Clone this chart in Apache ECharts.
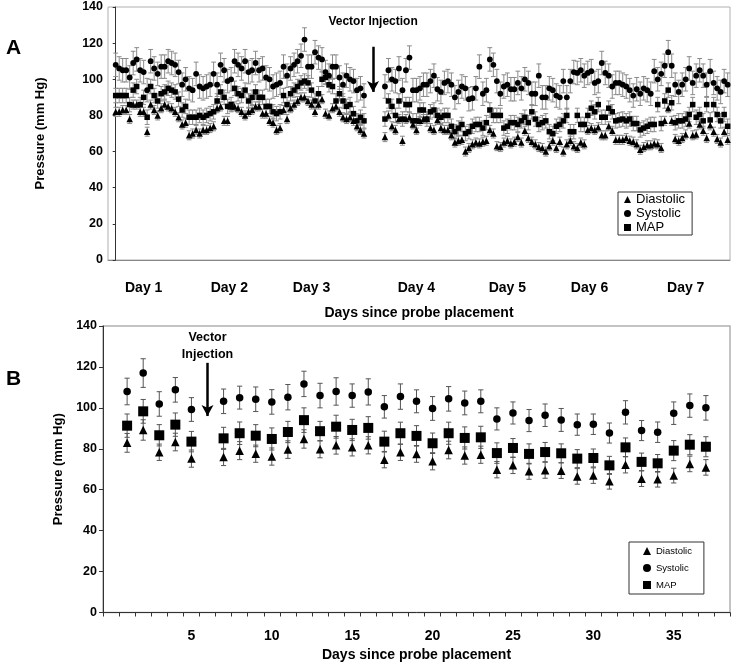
<!DOCTYPE html>
<html><head><meta charset="utf-8">
<script src="https://cdn.jsdelivr.net/npm/echarts@6/dist/echarts.min.js"></script>
<style>html,body{margin:0;padding:0;background:#fff}#c{width:735px;height:667px}</style>
</head><body><div id="c"></div>
<script>
// ---------- Panel A: hourly values (pre- and post-injection) ----------
const preSys = [108,106,105,105,101,109,111,105,104,94,110,106,103,107,107,110,109,108,104,97,100,95,94,103,96,95,96,97,103,97,108,105,99,100,110,108,106,110,104,105,109,105,106,101,100,96,97,98,107,102,106,108,110,113,122,107,107,115,112,111,104,102,107,107,101,97,102,100,99,94,95,91];
const preMap = [91,91,91,91,86,94,96,86,90,79,96,91,88,92,93,95,94,93,89,83,85,79,79,79,80,79,80,81,82,88,93,90,85,86,95,92,91,94,88,90,93,90,90,85,85,82,81,82,91,86,92,94,96,98,99,98,94,88,92,100,101,97,96,88,92,88,85,86,81,77,79,77];
const preDia = [82,82,83,83,78,86,86,82,82,71,86,83,80,84,86,85,84,82,79,75,76,69,70,72,70,72,72,73,74,84,85,77,77,85,85,84,82,80,82,83,85,85,81,81,77,76,72,73,83,78,84,86,88,90,90,88,86,82,86,89,81,80,84,85,82,79,78,79,77,74,72,70];
const postStart = 77;
const postSys = [96,105,100,99,106,94,105,112,94,94,95,97,97,99,102,94.5,93,98,99,97,90,93,96,95,89,89.5,95,107,92,94,111,108,99,92,96,97,94.5,94.5,98,95,100,98,92,92,102,90,90,95,94,91,90,99,90,99,104,103.5,105,102,103.5,104.5,98,99,109,103.5,102,96,98,98,97,96,94,91,94.5,92,95,94,92,104.5,100,103,107.5,115,107.5,97,93,97,100,106,98,102,105,102,97,104.5,98,95,93,99,97];
const postMap = [78,88,85,80,88,78,86,86,77,77,83,83,78,82,83,80,79,80,80,74,71,73,75,70,71,74,
  75,75,73,76,83,80,80,80,73,74,76,76,75,77,79,76,82,78,75,76,77,71,70,74,75,77,80,71,71,80,75,75,80,84,82,
  86,79,79,84,82,77,77.5,78,77,78,75.5,75.5,72,73,74,75,75,86,75.5,88,94,87,76,77,77,78,80.5,86,79,80.5,77,86,77.5,86,80.5,77,80.5,74];
const postDia = [68,80,74,72,78,66,78,79,75,72,77,78,78,73,72,77.5,73,72,72,69,65,66,66.5,60,62,64,
  65,64.5,65.5,66,72,70,63,62.5,65,66,64.5,65.5,68,65,71.5,67.5,65.5,64,62.5,62,60,63,66,62,65.5,60,64,66,63,62,65,64,72,73,72,
  73.5,69,69,74,71.5,66.5,66.5,66.5,67.5,66,65.5,64,61,62.5,63.5,63.5,64.5,64,62,77,84,77,67,66,67.5,69.5,75.5,69,69.5,75,71.5,67.5,74.5,71,67,65,71,66.5];
const semA = {sys: 6.5, map: 4, dia: 2.5};
const dayLabels = ['Day 1','Day 2','Day 3','Day 4','Day 5','Day 6','Day 7'];
const dayLabelHours = [8, 32.5, 56, 86, 112, 135.5, 163];
const injectionHourA = 73.6;

// ---------- Panel B: daily means and SEM ----------
const bDays = [1,2,3,4,5,7,8,9,10,11,12,13,14,15,16,17,18,19,20,21,22,23,24,25,26,27,28,29,30,31,32,33,34,35,36,37];
const sysB = [108,117,101.9,108.8,99.2,103.2,105,104.2,102.9,105.2,111.7,106,108,106,107.8,100.5,105.5,103.2,99.7,104.4,102.4,103.2,94.6,97.5,93.8,96.4,94.1,91.8,92,87.7,97.8,88.9,88.1,97.4,101.1,100];
const sysBErr = [6.5,7,6,6,5.8,6,5.6,6,6,6.2,6.2,6,6.7,5.7,6.4,5.5,6.2,5.6,5.8,6,5.8,5.6,5.4,5.4,5.4,5.5,5.6,5.2,5,4.9,5.7,4.9,5,5.5,5.7,6];
const mapB = [91.3,98.3,86.6,91.8,83.5,85.1,87.6,86.4,84.8,88.2,94,88.6,90.8,89.2,90.2,83.5,87.6,86.3,82.7,87.6,85.3,85.6,77.9,80.4,77.5,78.4,77.8,75.2,75.5,71.9,80.7,73.6,72.9,79.1,82,81];
const mapBErr = [5.7,5.8,5.2,5.7,5,5.4,5.5,5.4,5.4,5.2,6,4.8,5.6,5.2,5.5,5.1,5.4,5,5,5.4,5.4,5.4,5,4.6,4.9,4.7,4.6,4.4,4.4,4.4,4.6,4.3,4.3,4.9,4.9,4.9];
const diaB = [82.9,89.2,78.3,83.3,75.2,76,79.1,77.6,76.2,79.6,84.8,79.8,81.7,80.7,81.7,74.7,78.3,77.5,73.9,79.4,76.7,77.1,69.8,71.9,69,69.5,69.3,66.5,66.9,64.1,72.2,65.4,65.1,66.9,72.6,70.9];
const diaBErr = [4.6,5,4,4.3,4.2,4.2,4.4,4.2,4.2,4.3,4.5,4.2,4.3,4.2,4.2,4,4,4.1,4.2,4.3,4.2,4.2,4,4,3.9,3.9,3.8,3.8,3.8,3.8,4,3.8,3.8,3.6,3.8,3.8];
const bCategories = Array.from({length: 39}, (_, i) => String(i));
const bTickLabels = ['5','10','15','20','25','30','35'];
const injectionDayB = 6;

// ---------- build ----------
const sysA = preSys.concat(postSys), mapA = preMap.concat(postMap), diaA = preDia.concat(postDia);
const hoursA = preSys.map((_, k) => k).concat(postSys.map((_, k) => postStart + k));
const FONT = 'Liberation Sans, Arial, sans-serif';

function errItem(capHalf, color, lw) {
  return function (params, api) {
    const x = api.value(0), y = api.value(1), e = api.value(2);
    const t = api.coord([x, y + e]), b = api.coord([x, y - e]);
    const style = {stroke: color, lineWidth: lw};
    return {type: 'group', children: [
      {type: 'line', shape: {x1: t[0], y1: t[1], x2: b[0], y2: b[1]}, style},
      {type: 'line', shape: {x1: t[0] - capHalf, y1: t[1], x2: t[0] + capHalf, y2: t[1]}, style},
      {type: 'line', shape: {x1: b[0] - capHalf, y1: b[1], x2: b[0] + capHalf, y2: b[1]}, style}
    ]};
  };
}
function scatter(name, idx, data, symbol, size) {
  return {type: 'scatter', name, xAxisIndex: idx, yAxisIndex: idx, data, symbol, symbolSize: size,
    itemStyle: {color: '#000', opacity: 1}, z: 5, silent: true, animation: false};
}
function errSeries(idx, data, cap, color) {
  return {type: 'custom', name: 'err', xAxisIndex: idx, yAxisIndex: idx, data, renderItem: errItem(cap, color, 1),
    encode: {x: 0, y: 1}, z: 3, silent: true, animation: false};
}

const aSys = hoursA.map((h, k) => [h, sysA[k]]);
const aMap = hoursA.map((h, k) => [h, mapA[k]]);
const aDia = hoursA.map((h, k) => [h, diaA[k]]);
const aSysE = hoursA.map((h, k) => [h, sysA[k], semA.sys]);
const aMapE = hoursA.map((h, k) => [h, mapA[k], semA.map]);
const aDiaE = hoursA.map((h, k) => [h, diaA[k], semA.dia]);

const bSys = bDays.map((d, k) => [d, sysB[k]]);
const bMap = bDays.map((d, k) => [d, mapB[k]]);
const bDia = bDays.map((d, k) => [d, diaB[k]]);
const bSysE = bDays.map((d, k) => [d, sysB[k], sysBErr[k]]);
const bMapE = bDays.map((d, k) => [d, mapB[k], mapBErr[k]]);
const bDiaE = bDays.map((d, k) => [d, diaB[k], diaBErr[k]]);

const chart = echarts.init(document.getElementById('c'));

const sysAseries = scatter('Systolic', 0, aSys, 'circle', 5.8);
sysAseries.markLine = {silent: true, symbol: ['none', 'arrow'], symbolSize: [9, 11], animation: false,
  lineStyle: {color: '#000', width: 2.5, type: 'solid'}, label: {show: false},
  data: [[{coord: [injectionHourA, 118]}, {coord: [injectionHourA, 93]}]]};
sysAseries.markPoint = {silent: true, symbol: 'circle', symbolSize: 0, animation: false,
  label: {show: true, position: 'inside', formatter: 'Vector Injection', color: '#000', fontFamily: FONT, fontWeight: 'bold', fontSize: 12},
  data: [{coord: [injectionHourA, 131.8]}]};

const sysBseries = scatter('Systolic', 1, bSys, 'circle', 7.5);
sysBseries.markLine = {silent: true, symbol: ['none', 'arrow'], symbolSize: [9, 11], animation: false,
  lineStyle: {color: '#000', width: 2.5, type: 'solid'}, label: {show: false},
  data: [[{coord: [injectionDayB, 122]}, {coord: [injectionDayB, 96]}]]};
sysBseries.markPoint = {silent: true, symbol: 'circle', symbolSize: 0, animation: false,
  label: {show: true, position: 'inside', formatter: 'Vector\nInjection', color: '#000', fontFamily: FONT, fontWeight: 'bold', fontSize: 12.5, lineHeight: 17},
  data: [{coord: [injectionDayB, 130.3]}]};

const yAxisCommon = (gridIndex, gap, labelSize, margin, tickLen) => ({
  type: 'value', gridIndex, min: 0, max: 140, interval: 20,
  name: 'Pressure (mm Hg)', nameLocation: 'middle', nameGap: gap, nameRotate: 90,
  nameTextStyle: {fontFamily: FONT, fontWeight: 'bold', fontSize: 13, color: '#000'},
  axisLine: {show: true, lineStyle: {color: '#333', width: 1}},
  axisTick: {show: true, length: tickLen, lineStyle: {color: '#333'}},
  axisLabel: {fontFamily: FONT, fontWeight: 'bold', fontSize: labelSize, color: '#000', margin},
  splitLine: {show: false}
});

chart.setOption({
  animation: false,
  backgroundColor: '#fff',
  grid: [
    {left: 108, top: 7, width: 622, height: 253, show: true, borderColor: '#b0b0b0', borderWidth: 1},
    {left: 103, top: 326, width: 627, height: 286.5, show: true, borderColor: '#b0b0b0', borderWidth: 1.5}
  ],
  xAxis: [
    {type: 'value', gridIndex: 0, min: -2.2, max: 175.67,
      name: 'Days since probe placement', nameLocation: 'middle', nameGap: 46,
      nameTextStyle: {fontFamily: FONT, fontWeight: 'bold', fontSize: 14, color: '#000'},
      axisLine: {show: true, onZero: false, lineStyle: {color: '#888'}},
      axisTick: {show: false},
      axisLabel: {show: true, customValues: dayLabelHours, margin: 21,
        formatter: v => dayLabels[dayLabelHours.indexOf(v)] || '',
        fontFamily: FONT, fontWeight: 'bold', fontSize: 14, color: '#000'},
      splitLine: {show: false}},
    {type: 'category', gridIndex: 1, data: bCategories, boundaryGap: true,
      name: 'Days since probe placement', nameLocation: 'middle', nameGap: 36,
      nameTextStyle: {fontFamily: FONT, fontWeight: 'bold', fontSize: 14, color: '#000'},
      axisLine: {show: true, onZero: false, lineStyle: {color: '#333'}},
      axisTick: {show: true, interval: 0, length: 4, lineStyle: {color: '#333'}},
      axisLabel: {interval: (i, v) => bTickLabels.indexOf(v) >= 0, margin: 17,
        fontFamily: FONT, fontWeight: 'bold', fontSize: 14, color: '#000'},
      splitLine: {show: false}}
  ],
  yAxis: [yAxisCommon(0, 61, 12.5, 5, 3), yAxisCommon(1, 32, 12.5, 6, 4)],
  legend: [
    {left: 618, top: 192, orient: 'vertical', selectedMode: false,
      backgroundColor: '#fff', borderColor: '#333', borderWidth: 1, padding: [1, 7, 1, 6],
      itemGap: 1, itemWidth: 7, itemHeight: 7,
      textStyle: {fontFamily: FONT, fontSize: 13, lineHeight: 13, color: '#000'},
      data: [{name: 'Diastolic', icon: 'triangle'}, {name: 'Systolic', icon: 'circle'}, {name: 'MAP', icon: 'rect'}]},
    {left: 629, top: 542, orient: 'vertical', selectedMode: false,
      backgroundColor: '#fff', borderColor: '#333', borderWidth: 1, padding: [4, 12, 4, 14],
      itemGap: 7, itemWidth: 8, itemHeight: 8,
      textStyle: {fontFamily: FONT, fontSize: 9.5, color: '#000'},
      data: [{name: 'Diastolic', icon: 'triangle'}, {name: 'Systolic', icon: 'circle'}, {name: 'MAP', icon: 'rect'}]}
  ],
  graphic: [
    {type: 'text', left: 6, top: 38, style: {text: 'A', fontFamily: FONT, fontWeight: 'bold', fontSize: 21, fill: '#000'}},
    {type: 'text', left: 6, top: 369, style: {text: 'B', fontFamily: FONT, fontWeight: 'bold', fontSize: 21, fill: '#000'}}
  ],
  series: [
    errSeries(0, aSysE, 2.4, '#8a8a8a'),
    errSeries(0, aMapE, 2.4, '#8a8a8a'),
    errSeries(0, aDiaE, 2.4, '#8a8a8a'),
    scatter('Diastolic', 0, aDia, 'triangle', 6.5),
    sysAseries,
    scatter('MAP', 0, aMap, 'rect', 5.5),
    errSeries(1, bSysE, 2.6, '#555'),
    errSeries(1, bMapE, 2.6, '#555'),
    errSeries(1, bDiaE, 2.6, '#555'),
    scatter('Diastolic', 1, bDia, 'triangle', 8.5),
    sysBseries,
    scatter('MAP', 1, bMap, 'rect', 10)
  ]
});
</script></body></html>
